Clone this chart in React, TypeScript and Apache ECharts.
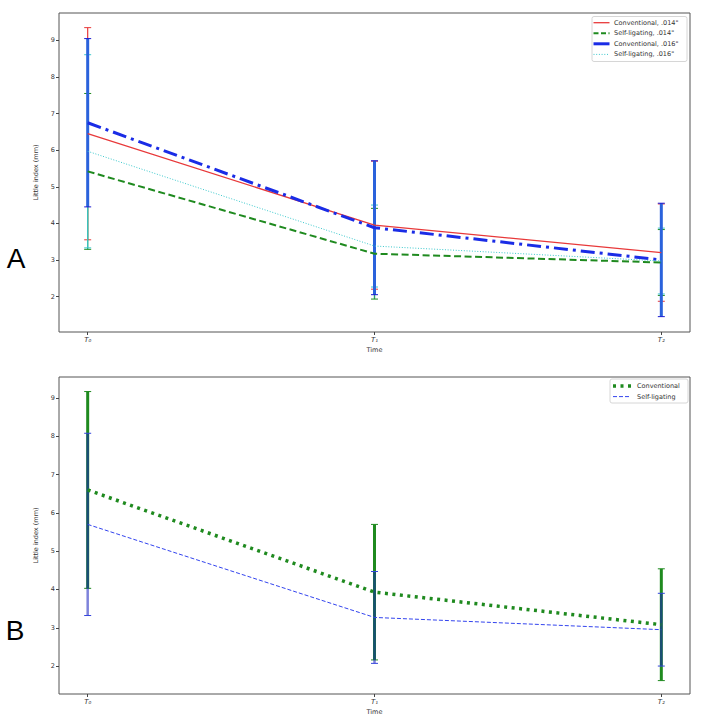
import React, { useEffect, useRef } from 'react';
import * as echarts from 'echarts';

// Measurement times and their labels
const timePoints = [0, 1, 2];
const timeLabels = ['T₀', 'T₁', 'T₂'];
const yTicks = [2, 3, 4, 5, 6, 7, 8, 9];

// Panel A: by archwire size
const convMean014 = [6.45, 3.95, 3.2];
const convSd014 = [2.9, 1.75, 1.33];
const selfMean014 = [5.42, 3.17, 2.93];
const selfSd014 = [2.13, 1.24, 0.9];
const convMean016 = [6.75, 3.88, 3.0];
const convSd016 = [2.3, 1.83, 1.55];
const selfMean016 = [5.97, 3.38, 2.97];
const selfSd016 = [2.64, 1.12, 0.9];
const legendA = ['Conventional, .014"', 'Self-ligating, .014"', 'Conventional, .016"', 'Self-ligating, .016"'];

// Panel B: pooled by bracket type
const convMean = [6.6, 3.93, 3.08];
const convSd = [2.57, 1.77, 1.46];
const selfMean = [5.7, 3.27, 2.95];
const selfSd = [2.38, 1.2, 0.95];
const legendB = ['Conventional', 'Self-ligating'];

const FONT = 'DejaVu Sans';

const RED = '#e8393a';
const GREEN = '#1f8a1f';
const BLUE = '#1a2ce6';
const CYAN = '#3cc8cc';

function xAxisFor(gridIndex: number) {
  return {
    type: 'value',
    gridIndex,
    min: -0.1,
    max: 2.1,
    name: 'Time',
    nameLocation: 'middle',
    nameGap: 14,
    nameTextStyle: { fontSize: 6.5, color: '#333', fontFamily: FONT },
    axisLine: { show: false, onZero: false },
    axisTick: { show: true, length: 3, customValues: timePoints, lineStyle: { color: '#444' } },
    axisLabel: {
      customValues: timePoints,
      formatter: (v: number) => timeLabels[Math.round(v)],
      fontSize: 7,
      fontStyle: 'italic',
      color: '#333',
      fontFamily: FONT,
      margin: 4,
    },
    splitLine: { show: false },
  };
}

function yAxisFor(gridIndex: number, min: number, max: number) {
  return {
    type: 'value',
    gridIndex,
    min,
    max,
    name: 'Little index (mm)',
    nameLocation: 'middle',
    nameGap: 13,
    nameTextStyle: { fontSize: 6.5, color: '#333', fontFamily: FONT },
    axisLine: { show: false, onZero: false },
    axisTick: { show: true, length: 3, customValues: yTicks, lineStyle: { color: '#444' } },
    axisLabel: { customValues: yTicks, fontSize: 6.5, color: '#333', fontFamily: FONT, margin: 4 },
    splitLine: { show: false },
  };
}

function lineSeries(axis: number, means: number[], color: string, width: number, dash: any) {
  return {
    type: 'line',
    xAxisIndex: axis,
    yAxisIndex: axis,
    data: means.map((m, i) => [timePoints[i], m]),
    symbol: 'none',
    z: 5,
    lineStyle: { color, width, type: dash },
  };
}

function errorSeries(axis: number, means: number[], sds: number[], color: string, capColor: string, width: number, z: number) {
  return {
    type: 'custom',
    xAxisIndex: axis,
    yAxisIndex: axis,
    z,
    data: means.map((m, i) => [timePoints[i], m - sds[i], m + sds[i]]),
    encode: { x: 0, y: [1, 2] },
    renderItem: (params: any, api: any) => {
      const x = api.value(0);
      const top = api.coord([x, api.value(2)]);
      const bot = api.coord([x, api.value(1)]);
      const hw = 3.5;
      return {
        type: 'group',
        children: [
          { type: 'line', shape: { x1: top[0], y1: top[1], x2: bot[0], y2: bot[1] }, style: { stroke: color, lineWidth: width } },
          { type: 'line', shape: { x1: top[0] - hw, y1: top[1], x2: top[0] + hw, y2: top[1] }, style: { stroke: capColor, lineWidth: 1 } },
          { type: 'line', shape: { x1: bot[0] - hw, y1: bot[1], x2: bot[0] + hw, y2: bot[1] }, style: { stroke: capColor, lineWidth: 1 } },
        ],
      };
    },
  };
}

function legendBox(x: number, y: number, w: number, h: number, rows: number[], lineX: number[], textX: number, items: { name: string; color: string; width: number; dash: number[] | null }[]) {
  const children: any[] = [
    { type: 'rect', shape: { x, y, width: w, height: h, r: 2 }, style: { fill: 'rgba(255,255,255,0.85)', stroke: '#d6d6d6', lineWidth: 1 } },
  ];
  items.forEach((it, i) => {
    children.push({
      type: 'line',
      shape: { x1: lineX[0], y1: rows[i], x2: lineX[1], y2: rows[i] },
      style: { stroke: it.color, lineWidth: it.width, lineDash: it.dash || undefined },
    });
    children.push({
      type: 'text',
      style: { text: it.name, x: textX, y: rows[i], fontSize: 6.5, fontFamily: FONT, fill: '#333', verticalAlign: 'middle', align: 'left' },
    });
  });
  return { type: 'group', z: 20, children };
}

export default function App() {
  const ref = useRef<HTMLDivElement>(null);

  useEffect(() => {
    if (!ref.current) return;
    const chart = echarts.init(ref.current, null, { renderer: 'svg' });
    const dashDot = [14, 5, 3, 5];
    chart.setOption({
      animation: false,
      backgroundColor: '#fff',
      grid: [
        { left: 59, top: 13, width: 631, height: 319, show: true, borderColor: '#555', borderWidth: 1, backgroundColor: '#fff' },
        { left: 59, top: 377, width: 631, height: 317, show: true, borderColor: '#555', borderWidth: 1, backgroundColor: '#fff' },
      ],
      xAxis: [xAxisFor(0), xAxisFor(1)],
      yAxis: [yAxisFor(0, 1.03, 9.75), yAxisFor(1, 1.27, 9.55)],
      series: [
        // Panel A
        errorSeries(0, convMean014, convSd014, RED, RED, 1.2, 2),
        errorSeries(0, selfMean014, selfSd014, '#2aa070', GREEN, 1.4, 2),
        errorSeries(0, selfMean016, selfSd016, CYAN, CYAN, 1, 2),
        errorSeries(0, convMean016, convSd016, '#2a62dc', '#1a1ad0', 3, 3),
        lineSeries(0, convMean014, RED, 1.3, 'solid'),
        lineSeries(0, selfMean014, GREEN, 2, [7, 3.5]),
        lineSeries(0, convMean016, BLUE, 3, dashDot),
        lineSeries(0, selfMean016, CYAN, 1, [1, 1.7]),
        // Panel B
        errorSeries(1, convMean, convSd, GREEN, GREEN, 3, 2),
        errorSeries(1, selfMean, selfSd, 'rgba(20,30,190,0.55)', '#3344dd', 2.5, 3),
        lineSeries(1, convMean, GREEN, 3.5, [3, 4.5]),
        lineSeries(1, selfMean, '#3344ee', 1, [4, 2]),
      ],
      graphic: [
        legendBox(592, 16.5, 95, 45, [22.7, 33.3, 43.8, 54.4], [593.5, 609.5], 614, [
          { name: legendA[0], color: RED, width: 1.3, dash: null },
          { name: legendA[1], color: GREEN, width: 2, dash: [5, 2.5] },
          { name: legendA[2], color: BLUE, width: 3, dash: null },
          { name: legendA[3], color: CYAN, width: 1, dash: [1, 1.7] },
        ]),
        legendBox(610, 379, 78, 24, [386, 396.6], [613, 631], 637, [
          { name: legendB[0], color: GREEN, width: 3.5, dash: [3, 4.5] },
          { name: legendB[1], color: '#3344ee', width: 1, dash: [4, 2] },
        ]),
        { type: 'text', z: 20, style: { text: 'A', x: 16, y: 258, fontSize: 28, fontFamily: 'Liberation Sans', fill: '#000', align: 'center', verticalAlign: 'middle' } },
        { type: 'text', z: 20, style: { text: 'B', x: 15, y: 630, fontSize: 28, fontFamily: 'Liberation Sans', fill: '#000', align: 'center', verticalAlign: 'middle' } },
      ],
    });
    return () => chart.dispose();
  }, []);

  return <div ref={ref} style={{ position: 'absolute', left: 0, top: 0, width: 703, height: 726 }} />;
}
